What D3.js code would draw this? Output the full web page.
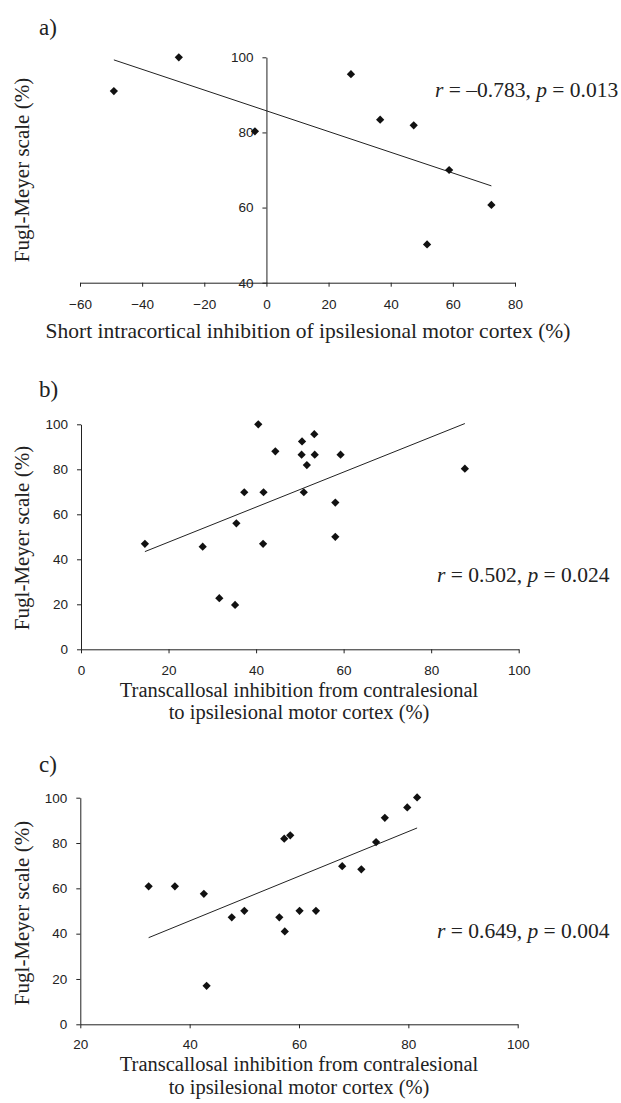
<!DOCTYPE html>
<html>
<head>
<meta charset="UTF-8">
<style>
  body { margin: 0; background: #fff; }
  .tick text { font-family: "Liberation Sans", Arial, sans-serif; font-size: 13.5px; fill: #222; }
  .serif { font-family: "Liberation Serif", "Times New Roman", serif; fill: #222; }
</style>
</head>
<body>
<div id="chart"></div>

<script src="https://d3js.org/d3.v7.min.js"></script>
<script>

// a) short intracortical inhibition vs Fugl-Meyer
const aX = [-49.1, -28.2, -3.7, 27.2, 36.6, 47.4, 58.8, 72.4, 51.7];
const aY = [91.0, 100, 80.3, 95.5, 83.4, 81.9, 70.0, 60.7, 50.2];
const aXTicks = [-60, -40, -20, 0, 20, 40, 60, 80];
const aYTicks = [40, 60, 80, 100];

// b) transcallosal inhibition vs Fugl-Meyer
const bX = [14.6, 27.8, 31.6, 35.2, 35.5, 37.3, 40.5, 41.7, 41.6, 44.4,
            50.5, 50.4, 51.6, 50.9, 53.3, 53.4, 59.3, 58.1, 58.1, 87.7];
const bY = [46.9, 45.6, 22.7, 19.7, 56.0, 69.8, 100, 69.8, 46.9, 88.0,
            92.4, 86.5, 81.9, 69.8, 95.6, 86.5, 86.5, 65.2, 50.0, 80.3];
const bXTicks = [0, 20, 40, 60, 80, 100];
const bYTicks = [0, 20, 40, 60, 80, 100];

// c) transcallosal inhibition vs Fugl-Meyer (second group)
const cX = [32.5, 37.3, 42.6, 43.1, 47.7, 50.0, 56.4, 57.4, 57.3,
            58.4, 60.1, 63.1, 67.9, 71.4, 74.1, 75.7, 79.8, 81.6];
const cY = [60.9, 60.9, 57.6, 17.0, 47.2, 50.1, 47.2, 41.0, 81.9,
            83.4, 50.1, 50.1, 69.8, 68.4, 80.4, 91.1, 95.7, 100.1];
const cXTicks = [20, 40, 60, 80, 100];
const cYTicks = [0, 20, 40, 60, 80, 100];

const panelLabels = ["a)", "b)", "c)"];
const stats = [["–0.783", "0.013"], ["0.502", "0.024"], ["0.649", "0.004"]];
const yTitle = "Fugl-Meyer scale (%)";
const xTitles = [
  ["Short intracortical inhibition of ipsilesional motor cortex (%)"],
  ["Transcallosal inhibition from contralesional", "to ipsilesional motor cortex (%)"],
  ["Transcallosal inhibition from contralesional", "to ipsilesional motor cortex (%)"]
];

const width = 621, height = 1103;

const svg = d3.select("#chart")
  .append("svg")
    .attr("width", width)
    .attr("height", height)
    .attr("viewBox", "0 0 " + width + " " + height);

// least squares fit
function fit(xs, ys) {
  const mx = d3.mean(xs), my = d3.mean(ys);
  let sxy = 0, sxx = 0;
  xs.forEach((x, i) => { sxy += (x - mx) * (ys[i] - my); sxx += (x - mx) * (x - mx); });
  const slope = sxy / sxx;
  return x => my + slope * (x - mx);
}

const diamond = d3.symbol().type(d3.symbolSquare).size(34);

function drawPanel(p) {
  const x = d3.scaleLinear().domain(p.xDomain).range(p.xRange);
  const y = d3.scaleLinear().domain(p.yDomain).range(p.yRange);
  const g = svg.append("g");

  // axes
  const xAxis = d3.axisBottom(x).tickValues(p.xTicks).tickSize(4).tickSizeOuter(0).tickPadding(p.xPad);
  const yAxis = d3.axisLeft(y).tickValues(p.yTicks).tickSize(4).tickSizeOuter(0).tickPadding(9);

  g.append("g")
    .attr("transform", "translate(0," + p.yRange[0] + ")")
    .call(xAxis);
  g.append("g")
    .attr("transform", "translate(" + x(p.yAxisAt) + ",0)")
    .call(yAxis);
  g.selectAll(".domain, .tick line").attr("stroke", "#222");
  g.selectAll(".tick text").attr("font-family", null).attr("font-size", null);

  // regression line
  const f = fit(p.xs, p.ys);
  const x0 = d3.min(p.xs), x1 = d3.max(p.xs);
  g.append("line")
    .attr("x1", x(x0)).attr("y1", y(f(x0)))
    .attr("x2", x(x1)).attr("y2", y(f(x1)))
    .attr("stroke", "#222")
    .attr("stroke-width", 1);

  // points
  g.selectAll("path.pt")
    .data(p.xs.map((v, i) => [v, p.ys[i]]))
    .enter()
    .append("path")
      .attr("class", "pt")
      .attr("d", diamond)
      .attr("fill", "#111")
      .attr("transform", d => "translate(" + x(d[0]) + "," + y(d[1]) + ") rotate(45)");

  // panel letter
  g.append("text")
    .attr("class", "serif")
    .attr("x", 39).attr("y", p.labelY)
    .attr("font-size", 23)
    .text(p.label);

  // y title
  g.append("text")
    .attr("class", "serif")
    .attr("font-size", 21)
    .attr("text-anchor", "middle")
    .attr("transform", "translate(29," + p.yTitleY + ") rotate(-90)")
    .text(yTitle);

  // x title
  const fs = p.xTitle.length > 1 ? 20.5 : 21.5;
  p.xTitle.forEach((line, i) => {
    g.append("text")
      .attr("class", "serif")
      .attr("font-size", fs)
      .attr("text-anchor", "middle")
      .attr("x", p.xTitleX)
      .attr("y", p.xTitleY + i * 22.5)
      .text(line);
  });

  // correlation text
  const t = g.append("text")
    .attr("class", "serif")
    .attr("font-size", 21.5)
    .attr("x", p.statX).attr("y", p.statY);
  t.append("tspan").attr("font-style", "italic").text("r");
  t.append("tspan").text(" = " + p.stat[0] + ", ");
  t.append("tspan").attr("font-style", "italic").text("p");
  t.append("tspan").text(" = " + p.stat[1]);
}

drawPanel({
  xs: aX, ys: aY, xTicks: aXTicks, yTicks: aYTicks,
  xDomain: [-60, 80], xRange: [80, 515],
  yDomain: [40, 100], yRange: [282.7, 57.3], yAxisAt: 0, xPad: 13,
  label: panelLabels[0], labelY: 35, yTitleY: 170,
  xTitle: xTitles[0], xTitleX: 308, xTitleY: 338,
  stat: stats[0], statX: 435, statY: 97
});

drawPanel({
  xs: bX, ys: bY, xTicks: bXTicks, yTicks: bYTicks,
  xDomain: [0, 100], xRange: [81, 518.7],
  yDomain: [0, 100], yRange: [649.3, 424.3], yAxisAt: 0, xPad: 12,
  label: panelLabels[1], labelY: 397, yTitleY: 538,
  xTitle: xTitles[1], xTitleX: 299, xTitleY: 696.5,
  stat: stats[1], statX: 437, statY: 582
});

drawPanel({
  xs: cX, ys: cY, xTicks: cXTicks, yTicks: cYTicks,
  xDomain: [20, 100], xRange: [80.3, 517.7],
  yDomain: [0, 100], yRange: [1024.3, 797.7], yAxisAt: 20, xPad: 11,
  label: panelLabels[2], labelY: 772, yTitleY: 913,
  xTitle: xTitles[2], xTitleX: 299, xTitleY: 1071,
  stat: stats[2], statX: 437, statY: 938
});

</script>
</body>
</html>
